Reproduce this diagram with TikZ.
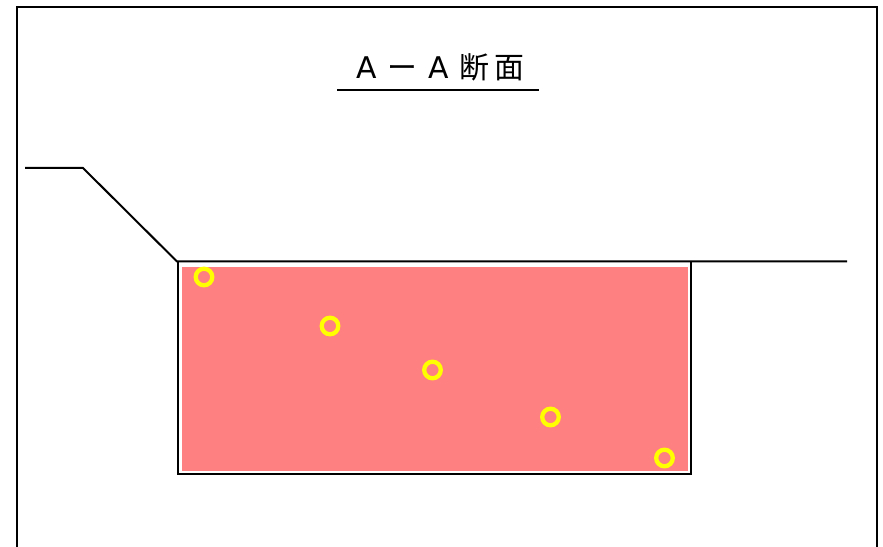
\documentclass[tikz,border=0pt]{standalone}
\usepackage{fontspec}
\newfontfamily\cjk{Noto Sans CJK JP}
\newfontfamily\latn{DejaVu Sans}
\begin{document}
\begin{tikzpicture}[x=0.02cm,y=-0.02cm]
    \tikzstyle{outline}=[draw=black,line width=0.04cm]
    \tikzstyle{marker}=[draw={rgb,255:red,255;green,255;blue,0},line width=0.085cm]
    \useasboundingbox (0,0) rectangle (883,547);
    
    % outer frame, open at the bottom
    \draw[outline] (17,547) -- (17,7.5) -- (877,7.5) -- (877,547);
    
    % title
    \node (title) at (440.5,67) {\fontsize{17pt}{19pt}\selectfont{\latn A}\hspace{6pt}{\cjk ー}\hspace{6pt}{\latn A}\hspace{6.2pt}{\cjk 断}\hspace{3pt}{\cjk 面}};
    \draw[outline] (337,90) -- (539,90);
    
    % filled area
    \fill[fill={rgb,255:red,255;green,128;blue,128}] (182,267) rectangle (688,471);
    
    % ground line
    \draw[outline] (25,168) -- (83,168) -- (177,261.5) -- (847,261.5);
    % pit
    \draw[outline] (178,261.5) -- (178,473.5) -- (690.5,473.5) -- (690.5,261.5);
    
    % markers
    \foreach \x/\y in {204/277,330/326,432.5/370,550.5/417,664.5/458}
      \draw[marker] (\x,\y) circle (8.3);
\end{tikzpicture}
\end{document}
